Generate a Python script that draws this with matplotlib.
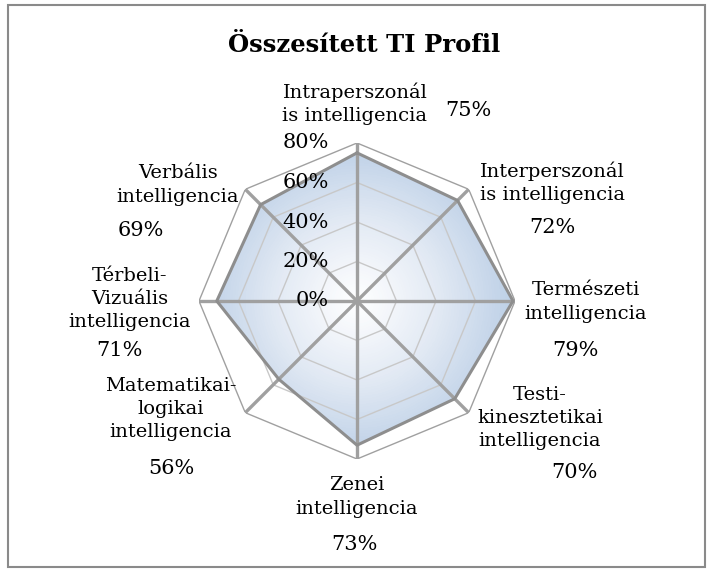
import numpy as np
import matplotlib
matplotlib.use("Agg")
import matplotlib.pyplot as plt
import matplotlib.transforms as mtransforms
from matplotlib.patches import Rectangle
from matplotlib.colors import LinearSegmentedColormap

title = "Összesített TI Profil"
categories = ["Intraperszonál\nis intelligencia", "Interperszonál\nis intelligencia",
              "Természeti\nintelligencia", "Testi-\nkinesztetikai\nintelligencia",
              "Zenei\nintelligencia", "Matematikai-\nlogikai\nintelligencia",
              "Térbeli-\nVizuális\nintelligencia", "Verbális\nintelligencia"]
values = [0.75, 0.72, 0.79, 0.70, 0.73, 0.56, 0.71, 0.69]
r_ticks = [0.0, 0.2, 0.4, 0.6, 0.8]
r_tick_labels = ["0%", "20%", "40%", "60%", "80%"]

SERIF = "DejaVu Serif"
W, H = 712, 572
fig = plt.figure(figsize=(W / 100, H / 100), dpi=100)
fig.patch.set_facecolor("white")
fig.patches.append(Rectangle((8 / W, 5 / H), 697 / W, 562 / H, transform=fig.transFigure,
                             fill=False, edgecolor="#8a8a8a", linewidth=1.5))

cx, cy, R = 357, 301, 158
ax = fig.add_axes([(cx - R) / W, (H - cy - R) / H, 2 * R / W, 2 * R / H], projection="polar")
ax.set_theta_zero_location("N")
ax.set_theta_direction(-1)
ax.set_ylim(0, r_ticks[-1])
ax.axis("off")

n = len(values)
theta = np.linspace(0, 2 * np.pi, n, endpoint=False)
theta_c = np.append(theta, theta[0])

# grid octagons
for rt in r_ticks[1:]:
    col = "#a0a0a0" if rt == r_ticks[-1] else "#c8c8c8"
    ax.plot(theta_c, [rt] * (n + 1), color=col, lw=1.0, zorder=2)

# data polygon with radial gradient fill
vals_c = np.append(values, values[0])
poly = ax.fill(theta_c, vals_c, facecolor="none", edgecolor="none", zorder=1)[0]
tg = np.linspace(0, 2 * np.pi, 181)
rg = np.linspace(0, r_ticks[-1], 60)
T, Rr = np.meshgrid(tg, rg)
cmap = LinearSegmentedColormap.from_list("g", ["#ffffff", "#e3eaf4", "#bccfe6"])
mesh = ax.pcolormesh(T, Rr, Rr / r_ticks[-1], cmap=cmap, shading="auto", zorder=1)
mesh.set_clip_path(poly)
ax.plot(theta_c, vals_c, color="#8e8e8e", lw=2.2, zorder=4)

# spokes
for t in theta:
    ax.plot([t, t], [0, r_ticks[-1]], color="#a0a0a0", lw=2.4, zorder=3)

# radial tick labels, left of the top spoke
off = ax.transData + mtransforms.ScaledTranslation(-28 / 100, 0, fig.dpi_scale_trans)
for rt, lab in zip(r_ticks, r_tick_labels):
    ax.text(0, rt, lab, transform=off, ha="right", va="center",
            fontsize=15, family=SERIF, zorder=6)

# category labels (pixel positions of label centres) and value labels
lab_pos = [(355, 104), (552, 183), (586, 302), (540, 418), (357, 497), (171, 409), (130, 299), (178, 185)]
val_pos = [(468, 110), (552, 228), (575, 350), (574, 473), (354, 545), (171, 468), (119, 350), (141, 230)]
for cat, v, (lx, ly), (vx, vy) in zip(categories, values, lab_pos, val_pos):
    fig.text(lx / W, 1 - ly / H, cat, ha="center", va="center", fontsize=14,
             family=SERIF, linespacing=1.38)
    fig.text(vx / W, 1 - vy / H, f"{round(v * 100)}%", ha="center", va="center",
             fontsize=15, family=SERIF)

fig.text(364 / W, 1 - 45 / H, title, ha="center", va="center", fontsize=17.5,
         family=SERIF, fontweight="bold")

fig.savefig("out.png", dpi=100)
